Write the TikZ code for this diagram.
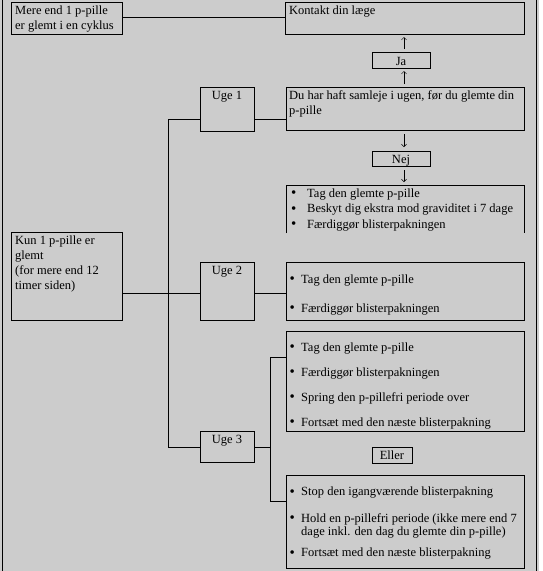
\documentclass[tikz,border=0pt]{standalone}
\usepackage{fontspec}
\setmainfont{Liberation Serif}
\usetikzlibrary{arrows.meta}
\definecolor{bg}{RGB}{204,204,204}
\newcommand\myfs{\fontsize{12.5}{15}\selectfont}
\newcommand\mybox[5]{\node[box,minimum width={#4pt-#2pt},minimum height={#5pt-#3pt}] (#1) at (#2,#3) {};}
\newcommand\bul[1]{\makebox[#1][l]{\raisebox{-0.4pt}{\fontsize{15}{15}\selectfont\textbullet}}}
\begin{document}
\begin{tikzpicture}[x=1pt,y=-1pt,
  box/.style={draw,line width=0.9pt,anchor=north west,inner sep=0pt,outer sep=0pt},
  openbox/.style={box,draw=none},
  txt/.style={anchor=north west,inner sep=0pt,align=left,font=\myfs},
  lbl/.style={anchor=base,inner sep=0pt,font=\myfs},
  conn/.style={line width=0.9pt},
  frame/.style={line width=1pt},
  arr/.style={line width=0.5pt,-{Straight Barb[length=2.5pt,width=5pt]}}]
\useasboundingbox (0,0) rectangle (542,571);
\fill[white] (0,0) rectangle (542,571);
\fill[bg] (0,0) rectangle (538.5,571);
\draw[frame] (2.5,0) -- (2.5,571);
\draw[frame] (536.5,0) -- (536.5,571);
% boxes
\mybox{mere}{11}{2}{122}{34}
\mybox{kontakt}{285}{2}{524}{34}
\mybox{ja}{372}{52}{430}{68}
\mybox{uge1}{200}{87}{254.5}{131}
\mybox{du}{286}{87}{524}{130}
\mybox{nej}{372}{151}{430}{166}
\node[openbox,minimum width=238pt,minimum height=48pt] (b1) at (286,185) {};
\draw[line width=0.9pt] (b1.south west) -- (b1.north west) -- (b1.north east) -- (b1.south east);
\mybox{kun}{11}{232}{122}{320}
\mybox{uge2}{200}{262}{254.5}{320}
\mybox{b2}{286}{262}{524}{320}
\mybox{b3}{286}{331}{524}{431}
\mybox{uge3}{200}{431}{254.5}{462}
\mybox{eller}{372}{447}{412}{463}
\mybox{b4}{286}{475}{524}{568}
% texts
\node[txt] (tmere) at (15,5.5) {Mere end 1 p-pille\\er glemt i en cyklus};
\node[txt] (tkontakt) at (289,5.5) {Kontakt din l\ae ge};
\node[lbl] (tja) at (401,65) {Ja};
\node[lbl] (tuge1) at (227,99.5) {Uge 1};
\node[txt] (tdu) at (289,90.5) {Du har haft samleje i ugen, f\o r du glemte din\\p-pille};
\node[lbl] (tnej) at (401,163) {Nej};
\node[txt] (tb1) at (291,188.5) {\bul{16pt}Tag den glemte p-pille\\[0.5pt]
  \bul{16pt}Beskyt dig ekstra mod graviditet i 7 dage\\[0.5pt]
  \bul{16pt}F\ae rdigg\o r blisterpakningen};
\node[txt] (tkun) at (15,235.5) {Kun 1 p-pille er\\glemt\\(for mere end 12\\timer siden)};
\node[lbl] (tuge2) at (227,274.5) {Uge 2};
\node[txt] (tb2) at (289.5,274.5) {\bul{11.5pt}Tag den glemte p-pille\\[14pt]
  \bul{11.5pt}F\ae rdigg\o r blisterpakningen};
\node[txt] (tb3) at (289.5,342.5) {\bul{11.5pt}Tag den glemte p-pille\\[10pt]
  \bul{11.5pt}F\ae rdigg\o r blisterpakningen\\[10pt]
  \bul{11.5pt}Spring den p-pillefri periode over\\[10pt]
  \bul{11.5pt}Forts\ae t med den n\ae ste blisterpakning};
\node[lbl] (tuge3) at (227,443.5) {Uge 3};
\node[lbl] (teller) at (392,459.5) {Eller};
\node[txt] (tb4) at (289.5,487) {\bul{11.5pt}Stop den igangv\ae rende blisterpakning\\[11.5pt]
  \bul{11.5pt}Hold en p-pillefri periode (ikke mere end 7\\[-1.5pt]
  \hspace*{11.5pt}dage inkl. den dag du glemte din p-pille)\\[6pt]
  \bul{11.5pt}Forts\ae t med den n\ae ste blisterpakning};
% connectors
\coordinate (c0) at (200,17);
\draw[conn] (mere.east |- c0) -- (kontakt.west |- c0);
\coordinate (j1) at (168.6,119);
\coordinate (j2) at (168.6,293);
\coordinate (j3) at (168.6,447);
\draw[conn] (uge1.west |- j1) -- (j1) -- (j3) -- (uge3.west |- j3);
\draw[conn] (kun.east |- j2) -- (uge2.west |- j2);
\draw[conn] (uge1.east |- j1) -- (du.west |- j1);
\draw[conn] (uge2.east |- j2) -- (b2.west |- j2);
\coordinate (f) at (270,447);
\coordinate (fa) at (270,357);
\coordinate (fb) at (270,501);
\draw[conn] (uge3.east |- f) -- (f);
\draw[conn] (b3.west |- fa) -- (fa) -- (fb) -- (b4.west |- fb);
% arrows
\coordinate (ax) at (404,0);
\draw[arr,shorten <=3pt,shorten >=3pt] (du.north -| ax) -- (ja.south -| ax);
\draw[arr,shorten <=3pt,shorten >=3pt] (ja.north -| ax) -- (kontakt.south -| ax);
\draw[arr,shorten <=4pt,shorten >=4pt] (du.south -| ax) -- (nej.north -| ax);
\draw[arr,shorten <=4pt,shorten >=3pt] (nej.south -| ax) -- (b1.north -| ax);
\end{tikzpicture}
\end{document}
